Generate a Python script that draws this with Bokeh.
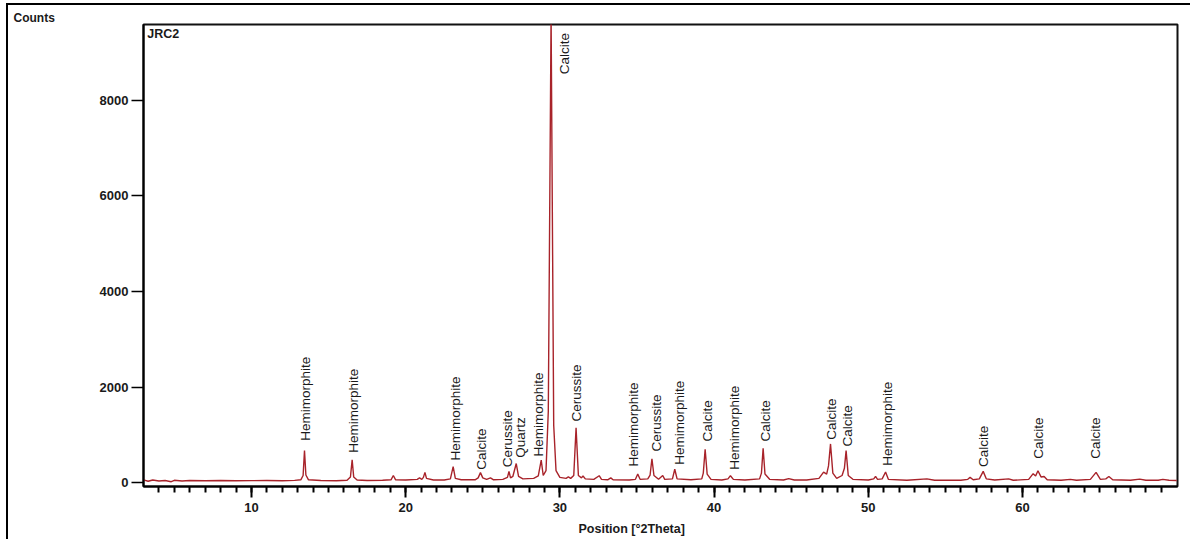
import math
from bokeh.plotting import figure
from bokeh.models import FixedTicker, Label, ColumnDataSource, Range1d, Title
from bokeh.core.properties import value
from bokeh.embed import file_html
from bokeh.resources import INLINE

# ---- data: XRD pattern ----
two_theta = [3.0, 3.3, 3.6, 4.0, 4.4, 4.8, 5.0, 5.5, 6.0, 7.0, 8.0, 9.0, 10.0, 11.0, 12.0, 12.8,
             13.2, 13.35, 13.44, 13.53, 13.7, 14.5, 15.5, 16.2, 16.42, 16.53, 16.63, 16.85,
             17.5, 18.5, 19.05, 19.2, 19.35, 20.0, 20.75, 20.9, 21.05, 21.15, 21.25, 21.35,
             21.8, 22.5, 22.9, 23.08, 23.22, 23.6, 24.5, 24.7, 24.85, 25.0, 25.25, 25.5, 25.7,
             26.3, 26.6, 26.7, 26.8, 26.95, 27.17, 27.32, 27.6, 28.3, 28.6, 28.79, 28.92,
             29.1, 29.25, 29.43, 29.6, 29.75, 30.0, 30.4, 30.55, 30.7, 30.9, 31.05, 31.2,
             31.4, 31.5, 31.65, 32.2, 32.55, 32.7, 33.1, 33.3, 33.45, 34.5, 34.9, 35.05, 35.2,
             35.7, 35.85, 35.97, 36.1, 36.4, 36.67, 36.8, 37.3, 37.45, 37.6, 38.5, 39.2, 39.3,
             39.42, 39.55, 39.8, 40.5, 40.9, 41.06, 41.25, 42.0, 42.95, 43.07, 43.18, 43.3,
             43.6, 44.5, 44.84, 45.2, 46.0, 46.8, 47.1, 47.3, 47.42, 47.55, 47.7, 47.95, 48.3,
             48.45, 48.56, 48.7, 49.0, 50.0, 50.35, 50.47, 50.6, 50.9, 51.12, 51.3, 52.5, 53.8,
             54.3, 56.0, 56.45, 56.6, 56.8, 57.2, 57.45, 57.65, 58.2, 59.1, 59.4, 60.4, 60.69,
             60.85, 61.0, 61.2, 61.4, 61.6, 62.5, 63.1, 63.5, 64.4, 64.77, 65.05, 65.4, 65.6,
             65.85, 67.0, 67.6, 68.0, 68.8, 69.1, 69.5, 70.0]
counts = [60, 30, 55, 35, 45, 20, 50, 35, 45, 40, 45, 40, 42, 45, 40, 48,
          60, 150, 673, 160, 60, 45, 40, 50, 120, 480, 120, 55,
          45, 50, 60, 150, 60, 55, 70, 100, 70, 110, 215, 90,
          55, 55, 80, 335, 90, 60, 60, 100, 210, 100, 70, 100, 60,
          70, 110, 235, 100, 130, 400, 130, 80, 90, 140, 470, 150,
          250, 1500, 9800, 1200, 250, 110, 90, 120, 90, 150, 1150, 150,
          100, 140, 80, 70, 145, 70, 60, 100, 60, 55, 70, 180, 70,
          80, 160, 500, 150, 70, 150, 70, 80, 280, 80, 60, 80, 200,
          700, 180, 70, 55, 80, 146, 70, 55, 80, 200, 720, 180,
          70, 55, 85, 55, 55, 90, 220, 180, 350, 810, 200, 90, 150,
          300, 670, 150, 70, 55, 80, 130, 70, 80, 222, 70, 50, 80,
          50, 50, 70, 110, 60, 80, 236, 80, 55, 80, 50, 70, 188,
          140, 250, 120, 130, 60, 50, 70, 50, 70, 215, 70, 80, 130,
          60, 50, 75, 50, 50, 70, 50, 45]

# ---- phase labels ----
phase_names = ["Hemimorphite", "Hemimorphite", "Hemimorphite", "Calcite", "Cerussite", "Quartz",
               "Hemimorphite", "Calcite", "Cerussite", "Hemimorphite", "Cerussite", "Hemimorphite",
               "Calcite", "Hemimorphite", "Calcite", "Calcite", "Calcite", "Hemimorphite",
               "Calcite", "Calcite", "Calcite"]
phase_x = [13.5, 16.6, 23.23, 24.93, 26.58, 27.44, 28.63, 30.3, 31.05, 34.8, 36.27, 37.76,
           39.55, 41.32, 43.33, 47.59, 48.63, 51.26, 57.49, 61.06, 64.74]
phase_y = [875, 625, 465, 270, 320, 520, 548, 8540, 1277, 340, 652, 375,
           860, 270, 860, 896, 756, 354, 327, 500, 500]

x_major = [10, 20, 30, 40, 50, 60]
x_minor = list(range(4, 70))
y_major = [0, 2000, 4000, 6000, 8000]

FONT = "Liberation Sans"
TXT = "#1a1a1a"

p = figure(width=1184, height=536, x_range=Range1d(3, 70.05), y_range=Range1d(-80, 9580),
           output_backend="svg", toolbar_location=None,
           min_border_left=135, min_border_right=15, min_border_top=19, min_border_bottom=54)
p.styles = {"margin-left": "6px", "margin-top": "3px",
            "border-left": "2px solid black", "border-top": "2px solid black"}

p.xgrid.visible = False
p.ygrid.visible = False
p.outline_line_color = "#111111"
p.outline_line_width = 2
p.background_fill_color = "white"
p.border_fill_color = "white"

p.line(two_theta, counts, line_color="#a8232a", line_width=1.4)

src = ColumnDataSource(dict(x=phase_x, y=phase_y, t=phase_names))
p.text(x="x", y="y", text="t", source=src, angle=math.pi / 2, text_align="left",
       text_baseline="middle", text_font=value(FONT), text_font_size="13.5px", text_color=TXT)

xa = p.xaxis[0]
xa.ticker = FixedTicker(ticks=x_major, minor_ticks=x_minor)
xa.axis_line_width = 2
xa.axis_line_color = "black"
xa.major_tick_out = 11
xa.major_tick_in = 0
xa.minor_tick_out = 6
xa.minor_tick_in = 0
xa.major_tick_line_width = 2
xa.minor_tick_line_width = 2
xa.major_label_text_font = FONT
xa.major_label_text_font_style = "bold"
xa.major_label_text_font_size = "13px"
xa.major_label_text_color = TXT
xa.major_label_standoff = 5

ya = p.yaxis[0]
ya.ticker = FixedTicker(ticks=y_major, minor_ticks=[])
ya.axis_line_width = 2
ya.axis_line_color = "black"
ya.major_tick_out = 12
ya.major_tick_in = 0
ya.minor_tick_out = 0
ya.major_tick_line_width = 1.5
ya.major_label_text_font = FONT
ya.major_label_text_font_style = "bold"
ya.major_label_text_font_size = "13px"
ya.major_label_text_color = TXT
ya.major_label_standoff = 3

p.add_layout(Title(text="Counts", align="left", offset=-130, standoff=0, text_font=FONT,
                   text_font_style="bold", text_font_size="12px", text_color=TXT), "above")
p.add_layout(Title(text="Position [°2Theta]", align="left", offset=435, standoff=11,
                   text_font=FONT, text_font_style="bold", text_font_size="12.5px",
                   text_color=TXT), "below")
p.add_layout(Label(x=3.25, y=9520, text="JRC2", text_font=FONT, text_font_style="bold",
                   text_font_size="12.5px", text_color=TXT, text_baseline="top"))

open("out.html", "w").write(file_html(p, INLINE))
